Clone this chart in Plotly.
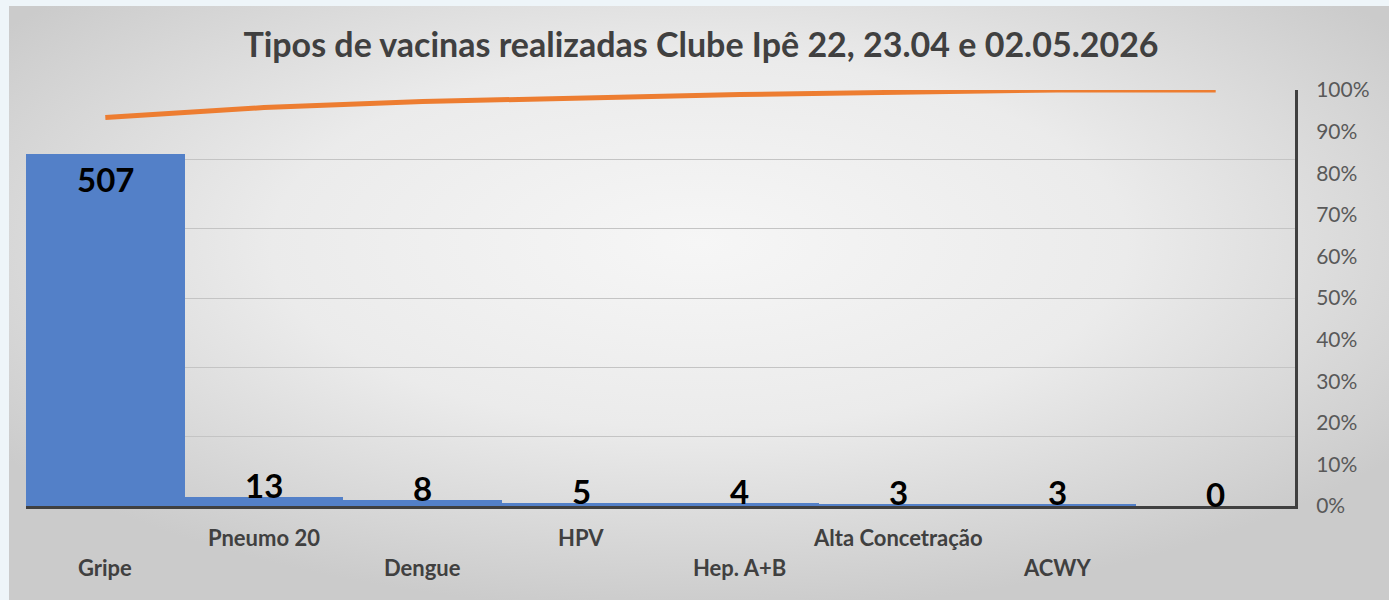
import base64
import plotly.graph_objects as go

# ---- data ----
categories = ["Gripe", "Pneumo 20", "Dengue", "HPV", "Hep. A+B", "Alta Concetração", "ACWY", " "]
counts = [507, 13, 8, 5, 4, 3, 3, 0]
pct_ticks = [0, 0.1, 0.2, 0.3, 0.4, 0.5, 0.6, 0.7, 0.8, 0.9, 1.0]
title_text = "Tipos de vacinas realizadas Clube Ipê 22, 23.04 e 02.05.2026"

total = sum(counts)
cum = []
run = 0
for c in counts:
    run += c
    cum.append(run / total)

W, H = 1389, 600
L, R, T, B = 26, 94, 90, 94
PW, PH = W - L - R, H - T - B

def px_x(x):
    return (x - L) / PW

def px_y(y):
    return (H - B - y) / PH

svg = """<svg xmlns='http://www.w3.org/2000/svg' width='1380' height='594' viewBox='0 0 1380 594' preserveAspectRatio='none'>
<defs><radialGradient id='g' cx='50%' cy='40%' r='62%'>
<stop offset='0' stop-color='#f6f6f6'/><stop offset='0.5' stop-color='#ebebeb'/><stop offset='1' stop-color='#cbcbcb'/>
</radialGradient></defs>
<rect x='0' y='0' width='1380' height='594' fill='url(#g)'/>
</svg>"""
src = "data:image/svg+xml;base64," + base64.b64encode(svg.encode()).decode()

fig = go.Figure()
fig.add_trace(go.Bar(
    x=categories, y=counts, marker=dict(color="#5380C8", line=dict(width=0)),
    yaxis="y", hoverinfo="skip", showlegend=False,
))
fig.add_trace(go.Scatter(
    x=categories, y=cum, mode="lines", yaxis="y2",
    line=dict(color="#ED7D31", width=5), hoverinfo="skip", showlegend=False,
))

annotations = []
for i, (c, v) in enumerate(zip(categories, counts)):
    if i == 0:
        annotations.append(dict(x=c, y=v, xref="x", yref="y", text=f"<b>{v}</b>", showarrow=False,
                                yanchor="top", yshift=-3,
                                font=dict(family="Lato", size=33, color="#000000")))
    else:
        annotations.append(dict(x=c, y=v, xref="x", yref="y", text=f"<b>{v}</b>", showarrow=False,
                                yanchor="bottom", yshift=-10,
                                font=dict(family="Lato", size=33, color="#000000")))
    row_y = px_y(567) if i % 2 == 0 else px_y(537)
    annotations.append(dict(x=c, y=row_y, xref="x", yref="paper", text=f"<b>{c}</b>", showarrow=False,
                            yanchor="middle", font=dict(family="Lato", size=22, color="#404040")))

fig.update_layout(
    width=W, height=H,
    margin=dict(l=L, r=R, t=T, b=B, pad=0),
    paper_bgcolor="#eef5f9",
    plot_bgcolor="rgba(0,0,0,0)",
    bargap=0,
    title=dict(text=f"<b>{title_text}</b>", x=px_x(701), xanchor="center", xref="paper",
               y=1 - 45 / H, yanchor="middle",
               font=dict(family="Lato", size=34, color="#404040")),
    xaxis=dict(type="category", showticklabels=False, ticks="", showgrid=False, zeroline=False,
               showline=True, linecolor="#404040", linewidth=3, range=[-0.5, len(categories) - 0.5]),
    yaxis=dict(range=[0, 600], dtick=100, showticklabels=False, ticks="", showgrid=True,
               gridcolor="#c4c4c4", gridwidth=1, zeroline=False, showline=False),
    yaxis2=dict(overlaying="y", side="right", range=[0, 1], tickvals=pct_ticks, tickformat=".0%",
                showgrid=False, zeroline=False, showline=True, linecolor="#404040", linewidth=3,
                ticks="", ticklabelstandoff=14,
                tickfont=dict(family="Lato", size=21, color="#595959")),
    annotations=annotations,
    images=[dict(source=src, xref="paper", yref="paper", x=px_x(9), y=px_y(6),
                 sizex=px_x(W) - px_x(9), sizey=px_y(6) - px_y(H), xanchor="left", yanchor="top",
                 sizing="stretch", layer="below")],
)

fig.write_html("out.html", config={"displayModeBar": False},
               post_script="document.body.style.margin='0';")
